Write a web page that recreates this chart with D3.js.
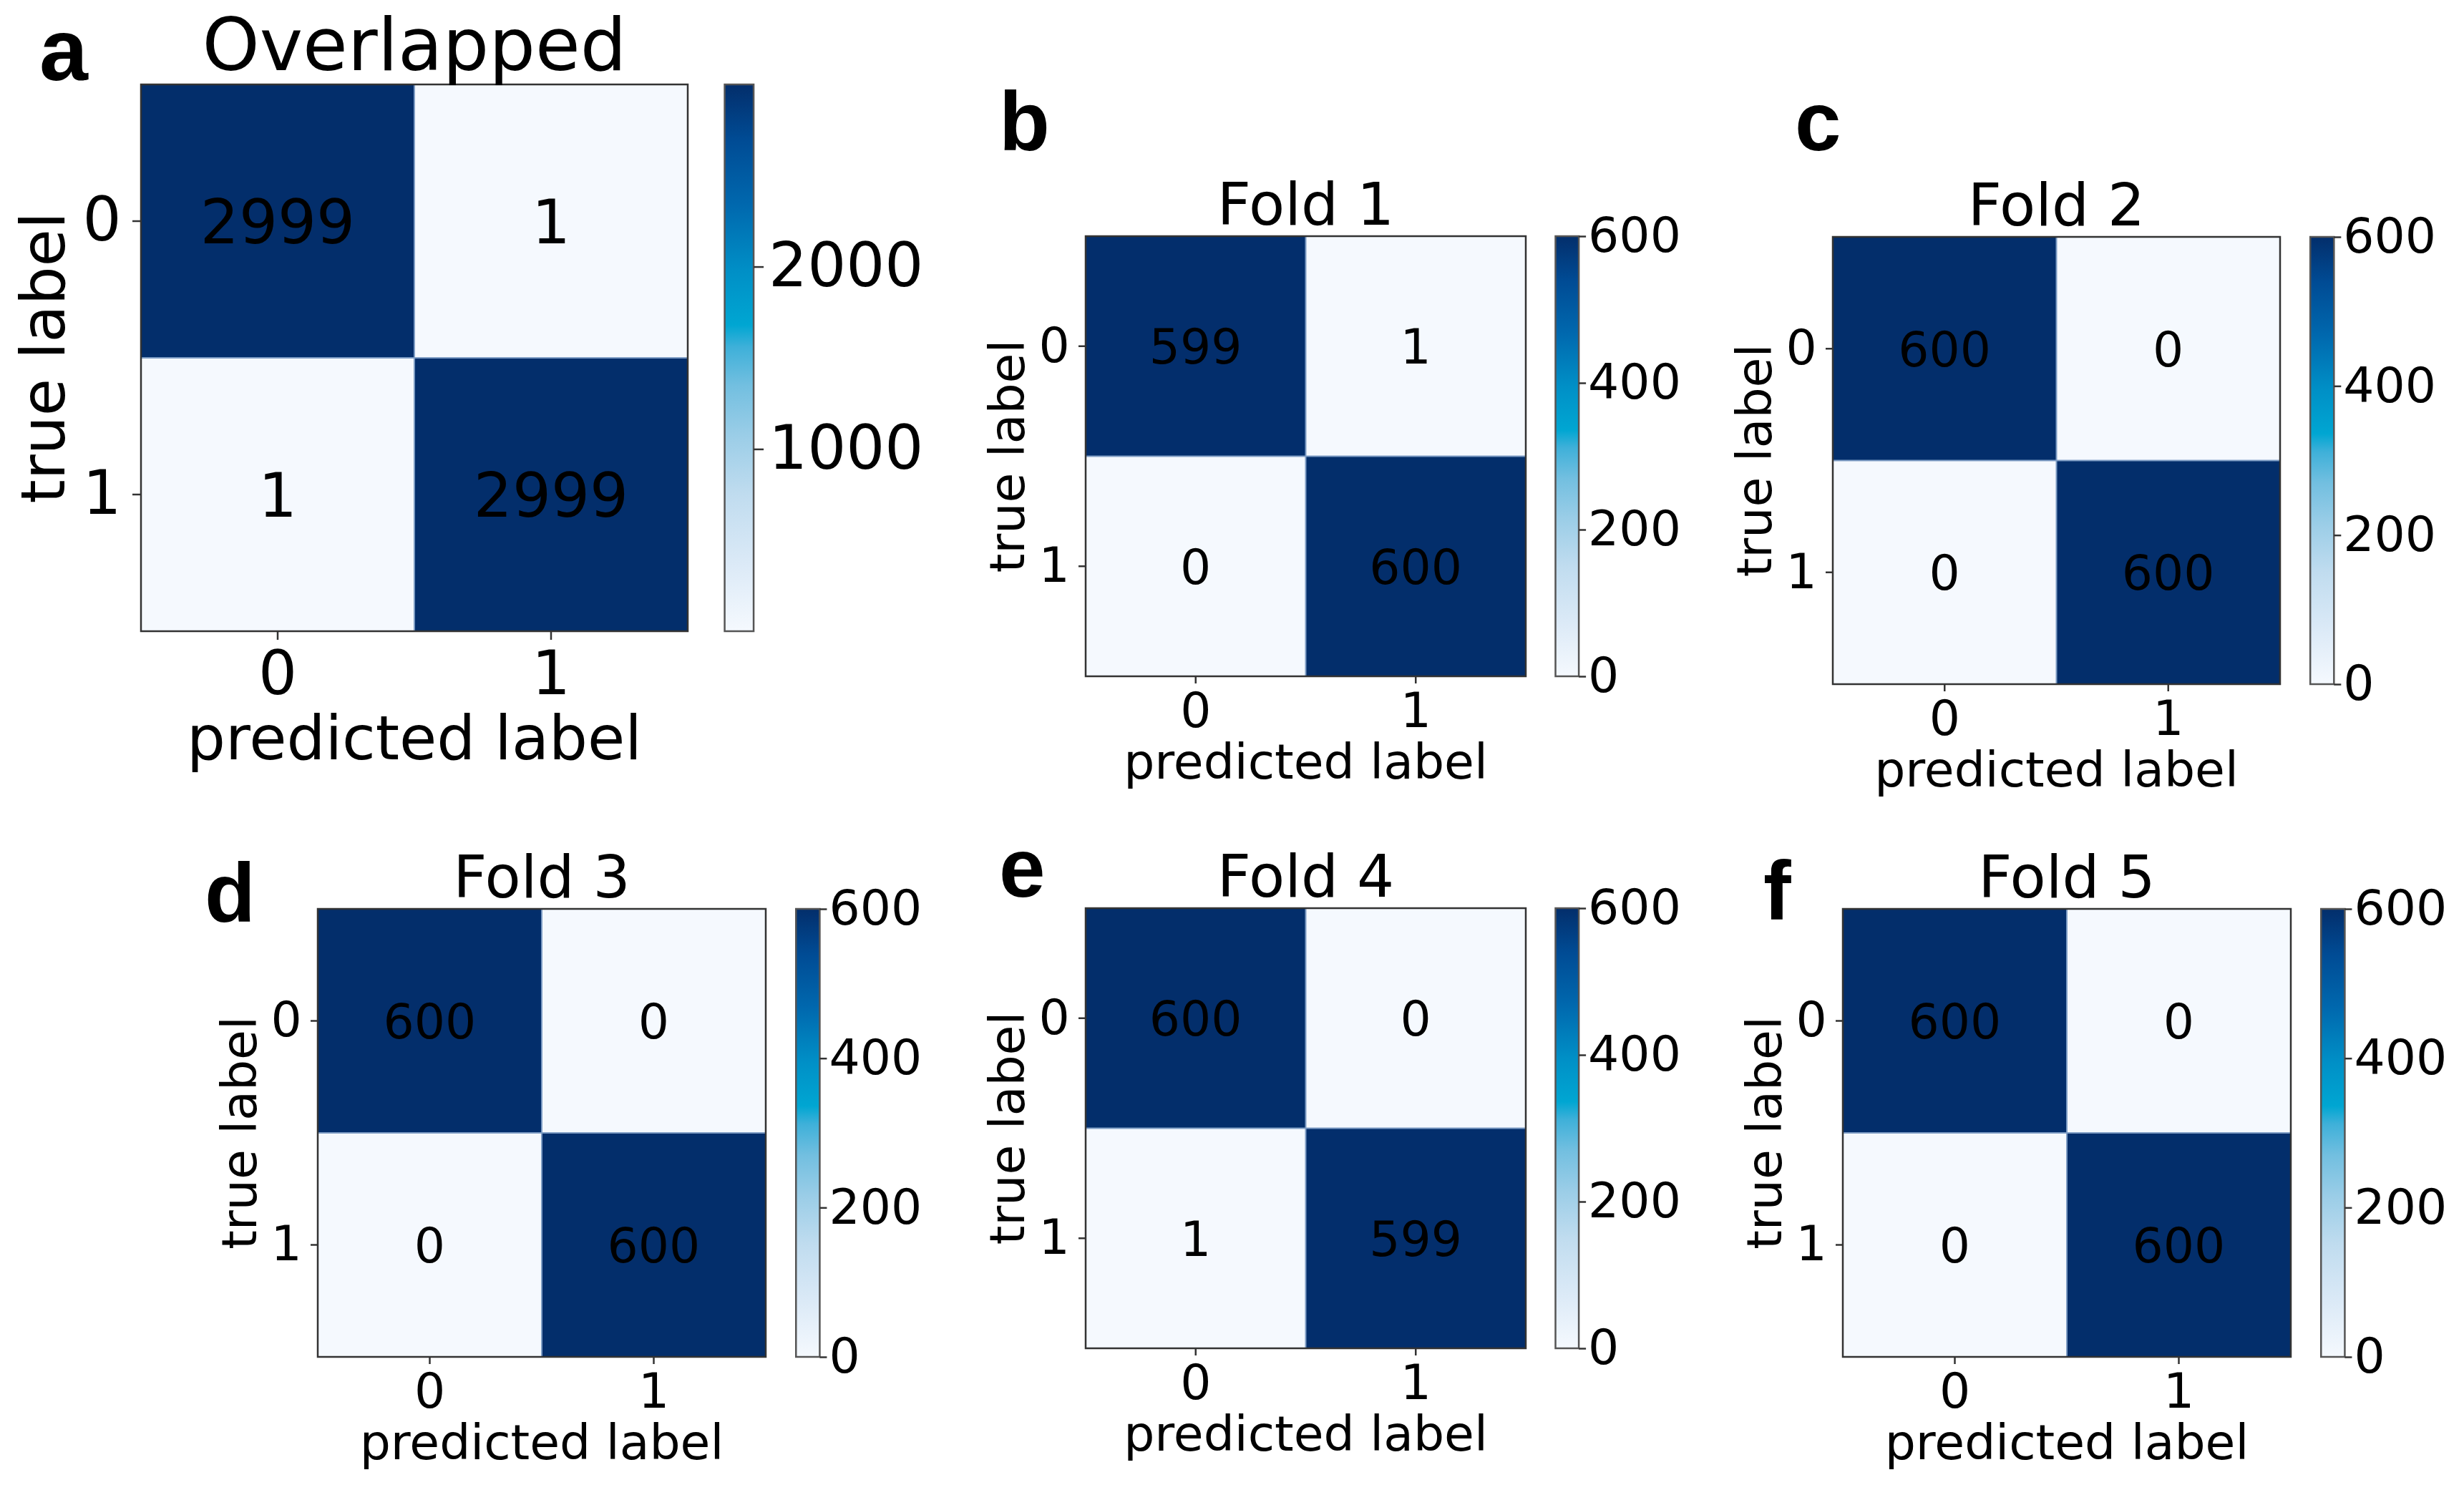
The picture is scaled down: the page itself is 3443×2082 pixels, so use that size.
<!DOCTYPE html>
<html>
<head>
<meta charset="utf-8">
<script src="https://cdn.jsdelivr.net/npm/d3@7"></script>
<style>
  html, body { margin: 0; padding: 0; background: #fff; }
  svg { display: block; }
</style>
</head>
<body>
<script>
// ---------------------------------------------------------------------------
// data

var panelLetters = ["a", "b", "c", "d", "e", "f"];
var panelTitles = ["Overlapped", "Fold 1", "Fold 2", "Fold 3", "Fold 4", "Fold 5"];
var classLabels = ["0", "1"];
var xLabel = "predicted label";
var yLabel = "true label";

var overlapped = [[2999, 1], [1, 2999]];
var fold1 = [[599, 1], [0, 600]];
var fold2 = [[600, 0], [0, 600]];
var fold3 = [[600, 0], [0, 600]];
var fold4 = [[600, 0], [1, 599]];
var fold5 = [[600, 0], [0, 600]];
var matrices = [overlapped, fold1, fold2, fold3, fold4, fold5];

var colorDomains = [[1, 2999], [0, 600], [0, 600], [0, 600], [0, 600], [0, 600]];
var colorbarTicks = [
    [1000, 2000],
    [0, 200, 400, 600],
    [0, 200, 400, 600],
    [0, 200, 400, 600],
    [0, 200, 400, 600],
    [0, 200, 400, 600]
];

// ---------------------------------------------------------------------------
// layout (pixels) and style

var W = 3443, H = 2082;

// left, top, size of the matrix; letter position; font sizes
var layout = [
    {left: 197,  top: 118,  size: 764, lx: 55,   ly: 112,  fs: 85, tfs: 102, lfs: 122, tick: 12, cbTick: 14, cbPad: 7},
    {left: 1517, top: 330,  size: 615, lx: 1396, ly: 210,  fs: 68, tfs: 82,  lfs: 116, tick: 10, cbTick: 10, cbPad: 3},
    {left: 2561, top: 331,  size: 625, lx: 2508, ly: 210,  fs: 68, tfs: 82,  lfs: 116, tick: 10, cbTick: 10, cbPad: 3},
    {left: 444,  top: 1270, size: 626, lx: 286,  ly: 1288, fs: 68, tfs: 82,  lfs: 116, tick: 10, cbTick: 10, cbPad: 3},
    {left: 1517, top: 1269, size: 615, lx: 1396, ly: 1253, fs: 68, tfs: 82,  lfs: 116, tick: 10, cbTick: 10, cbPad: 3},
    {left: 2575, top: 1270, size: 626, lx: 2464, ly: 1285, fs: 68, tfs: 82,  lfs: 116, tick: 10, cbTick: 10, cbPad: 3}
];

// colour ramp as it appears in the picture (light -> dark)
var rampPos = [0, 0.12, 0.25, 0.36, 0.45, 0.52, 0.56, 0.66, 0.78, 0.9, 1];
var rampCol = ["#f5f9fe", "#dceaf7", "#c0dcef", "#9acde7", "#72bfe0", "#3eb0d9",
               "#00a6d2", "#008fc6", "#0068ae", "#004b94", "#032e6b"];

var FONT = "'DejaVu Sans', Verdana, sans-serif";
var FRAME = "#333";

var svg = d3.select("body").append("svg")
    .attr("width", W)
    .attr("height", H)
    .attr("viewBox", "0 0 " + W + " " + H);

var defs = svg.append("defs");

function drawPanel(i)
{
    var L = layout[i];
    var m = matrices[i];
    var dom = colorDomains[i];
    var S = L.size;

    var t = d3.scaleLinear().domain(rampPos).range(rampCol).interpolate(d3.interpolateRgb);
    var norm = d3.scaleLinear().domain(dom).range([0, 1]).clamp(true);
    var color = function(v) { return t(norm(v)); };

    var g = svg.append("g").attr("transform", "translate(" + L.left + "," + L.top + ")");

    var x = d3.scaleBand().domain(classLabels).range([0, S]);
    var y = d3.scaleBand().domain(classLabels).range([0, S]);

    var cells = [];
    m.forEach(function(row, r) {
        row.forEach(function(v, c) {
            cells.push({r: classLabels[r], c: classLabels[c], v: v});
        });
    });

    g.selectAll("rect.cell")
        .data(cells)
        .enter().append("rect")
        .attr("class", "cell")
        .attr("x", function(d) { return x(d.c); })
        .attr("y", function(d) { return y(d.r); })
        .attr("width", x.bandwidth())
        .attr("height", y.bandwidth())
        .attr("fill", function(d) { return color(d.v); });

    // faint seams between cells
    g.append("line")
        .attr("x1", x("1")).attr("x2", x("1"))
        .attr("y1", 0).attr("y2", S)
        .attr("stroke", "#7d9cc4").attr("stroke-width", 2);
    g.append("line")
        .attr("x1", 0).attr("x2", S)
        .attr("y1", y("1")).attr("y2", y("1"))
        .attr("stroke", "#7d9cc4").attr("stroke-width", 2);

    g.selectAll("text.val")
        .data(cells)
        .enter().append("text")
        .attr("class", "val")
        .attr("x", function(d) { return x(d.c) + x.bandwidth() / 2; })
        .attr("y", function(d) { return y(d.r) + y.bandwidth() / 2; })
        .attr("dy", "0.36em")
        .attr("text-anchor", "middle")
        .style("font-family", FONT)
        .style("font-size", L.fs + "px")
        .attr("fill", "#000")
        .text(function(d) { return d.v; });

    g.append("rect")
        .attr("width", S).attr("height", S)
        .attr("fill", "none")
        .attr("stroke", FRAME)
        .attr("stroke-width", 2.5);

    // axes
    var ya = g.append("g")
        .call(d3.axisLeft(y).tickSize(L.tick).tickPadding(L.fs * 0.18));
    var xa = g.append("g")
        .attr("transform", "translate(0," + S + ")")
        .call(d3.axisBottom(x).tickSize(L.tick).tickPadding(L.fs * 0.18));
    [ya, xa].forEach(function(a) {
        a.select(".domain").remove();
        a.selectAll("line").attr("stroke", FRAME).attr("stroke-width", 2.5);
        a.selectAll("text")
            .style("font-family", FONT)
            .style("font-size", L.fs + "px")
            .attr("fill", "#000");
    });

    g.append("text")
        .attr("x", S / 2)
        .attr("y", S + L.fs * 2.1)
        .attr("text-anchor", "middle")
        .style("font-family", FONT)
        .style("font-size", L.fs + "px")
        .text(xLabel);

    g.append("text")
        .attr("transform", "translate(" + (-L.fs * 1.26) + "," + (S / 2) + ") rotate(-90)")
        .attr("text-anchor", "middle")
        .style("font-family", FONT)
        .style("font-size", L.fs + "px")
        .text(yLabel);

    g.append("text")
        .attr("x", S / 2)
        .attr("y", -L.tfs * 0.2)
        .attr("text-anchor", "middle")
        .style("font-family", FONT)
        .style("font-size", L.tfs + "px")
        .text(panelTitles[i]);

    // colorbar
    var cbX = S + S * 0.0675;
    var cbW = S * 0.053;
    var cb = g.append("g").attr("transform", "translate(" + cbX + ",0)");
    var gradId = "grad" + i;
    var grad = defs.append("linearGradient")
        .attr("id", gradId)
        .attr("x1", 0).attr("y1", 1).attr("x2", 0).attr("y2", 0);
    grad.selectAll("stop")
        .data(rampPos)
        .enter().append("stop")
        .attr("offset", function(d) { return d; })
        .attr("stop-color", function(d, k) { return rampCol[k]; });
    cb.append("rect")
        .attr("width", cbW).attr("height", S)
        .attr("fill", "url(#" + gradId + ")")
        .attr("stroke", "#555")
        .attr("stroke-width", 2.5);

    var cy = d3.scaleLinear().domain(dom).range([S, 0]);
    var ca = cb.append("g")
        .attr("transform", "translate(" + cbW + ",0)")
        .call(d3.axisRight(cy)
            .tickValues(colorbarTicks[i])
            .tickFormat(d3.format("d"))
            .tickSize(L.cbTick)
            .tickPadding(L.cbPad));
    ca.select(".domain").remove();
    ca.selectAll("line").attr("stroke", FRAME).attr("stroke-width", 2.5);
    ca.selectAll("text")
        .style("font-family", FONT)
        .style("font-size", L.fs + "px")
        .attr("fill", "#000");

    // panel letter
    svg.append("text")
        .attr("x", L.lx)
        .attr("y", L.ly)
        .style("font-family", "'Liberation Sans', Arial, Helvetica, sans-serif")
        .style("font-weight", "bold")
        .style("font-size", L.lfs + "px")
        .text(panelLetters[i]);
}

d3.range(matrices.length).forEach(drawPanel);
</script>
</body>
</html>
